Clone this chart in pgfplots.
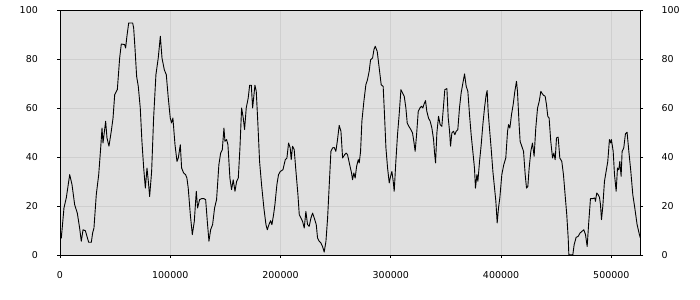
\documentclass[border=0pt]{standalone}
\usepackage{fontspec}
\setmainfont{DejaVu Sans}
\usepackage{pgfplots}
\pgfplotsset{compat=1.18}
\usepackage{pgfplotstable}
\definecolor{bgc}{HTML}{E0E0E0}
\definecolor{gridc}{HTML}{CFCFCF}
\pgfplotstableread{
x y
0 10.5
1200 6.9
3600 19.2
5700 23.3
8800 32.8
10900 28.7
13300 20.5
15700 17.1
17800 11.0
19300 5.6
20900 10.3
23000 9.9
26000 5.2
28400 5.2
29600 9.0
30800 11.0
32900 24.6
35100 32.8
36900 43.7
38100 51.8
39000 45.7
41400 54.6
42600 47.8
44400 44.4
46500 50.5
48100 55.9
49600 65.4
51100 66.8
52000 67.5
54100 80.4
55600 86.1
58600 85.9
59500 84.5
60700 89.3
62300 94.7
64400 94.7
65900 94.7
66800 92.7
68000 84.5
69500 72.9
71000 68.8
72800 60.0
74300 46.4
75900 35.5
77400 27.3
78900 35.5
80100 30.1
81300 23.9
83100 34.1
84900 55.9
87000 73.6
89100 80.4
91000 89.3
92500 80.4
94600 75.6
96400 73.6
98200 64.1
100000 55.9
101200 53.9
102400 55.9
104300 45.0
106100 38.2
107300 39.6
109100 45.0
110300 35.5
112100 33.5
113900 32.8
115100 31.4
116300 27.3
118200 16.5
120000 8.3
121800 13.7
123600 26.0
124800 19.2
126600 22.6
128400 23.0
130500 23.0
132100 22.6
133600 13.7
135100 5.6
136600 10.3
138400 12.4
140200 19.2
142000 22.6
144100 36.9
145700 41.6
147200 43.0
148700 51.8
149600 46.4
151100 47.1
152300 45.0
154100 31.4
155600 26.7
157100 30.7
158700 26.0
160200 30.1
161700 31.4
163200 43.7
164700 60.0
166200 55.9
167400 51.2
168900 60.0
170700 64.1
172000 69.3
173500 69.3
174700 60.0
175900 65.4
176800 69.3
178000 66.8
179500 53.2
181000 38.2
182800 28.7
184900 19.2
186800 12.4
188000 10.3
189500 12.4
191000 14.0
192200 12.4
193700 16.5
194900 20.5
196700 28.7
198200 32.8
199800 34.1
202200 34.8
204300 38.9
205800 39.6
207300 45.7
208800 43.7
209700 38.9
210900 44.4
212400 43.0
214000 34.1
215800 24.6
217000 16.5
218500 15.1
220000 13.7
221500 11.0
223000 17.8
224500 12.4
226000 11.7
227600 15.1
229100 17.1
230600 15.1
232400 12.4
233600 6.9
235100 5.6
236600 4.9
238100 3.5
239600 1.2
241200 5.6
242700 15.1
244200 28.7
245700 42.3
247200 43.7
248700 43.9
250200 42.3
251700 47.1
253200 52.9
254800 50.5
256300 39.6
258100 40.9
259600 41.6
260800 40.9
262900 36.5
264400 33.5
265300 30.7
266500 33.5
267700 31.4
269000 36.2
270500 38.9
271400 37.6
272600 42.3
273800 54.6
275600 62.7
277400 69.5
278900 71.6
280400 75.0
281700 79.7
283500 80.4
284700 83.8
285900 85.2
287700 83.1
289500 76.3
291300 69.5
293100 68.8
294300 57.3
295600 43.7
297100 35.5
298600 29.4
299800 32.1
301000 34.1
302200 30.1
303100 26.0
304600 38.2
306100 49.1
307600 57.3
309200 67.5
310700 66.1
312200 64.8
313700 60.0
314900 53.9
316400 52.5
318200 51.2
319700 49.8
320900 46.4
322100 42.3
323400 49.1
324900 58.6
326400 60.0
327900 60.7
329100 60.0
330000 61.4
331500 63.0
332700 58.6
334200 55.9
335700 54.6
337300 51.8
338800 47.1
339700 41.6
340600 37.6
341800 49.8
343300 56.6
344800 53.2
346300 52.5
347800 60.7
349000 67.5
350900 67.9
352100 55.9
353300 50.5
354200 44.4
355400 49.8
356900 50.5
358100 49.1
359300 50.5
360800 51.2
362300 60.0
363800 66.1
365400 70.2
366900 73.9
368400 68.8
369900 66.8
371400 57.3
372900 49.1
374400 42.3
375900 35.5
376800 27.3
378100 32.8
379000 30.1
380500 38.2
382000 45.0
383500 53.2
385000 60.0
386500 65.4
387400 67.1
388300 58.6
389500 51.8
391000 43.7
392600 34.1
394100 27.3
395300 21.9
396500 13.1
397700 19.2
398900 23.3
400700 32.8
402500 36.9
404300 39.6
405900 50.5
406800 53.2
408000 51.8
409500 57.3
411000 61.4
412500 66.8
414000 70.9
414900 66.8
416400 53.2
417300 46.4
418800 44.4
420400 42.3
421900 32.8
423100 27.3
424300 28.0
425500 35.5
427000 42.3
428500 45.7
430000 40.3
431500 51.8
433100 60.0
434600 62.7
436100 66.8
437000 66.1
438500 65.2
440000 64.8
441200 61.4
442400 56.6
443600 55.9
445100 46.4
446700 39.6
447900 41.6
449100 38.9
450300 47.8
451800 48.1
453300 39.6
455100 38.2
456600 32.8
458100 24.6
459600 16.5
460900 6.9
461500 0.1
465100 0.1
466300 4.2
468100 7.2
469900 7.6
471700 9.0
473500 9.7
475100 10.3
476600 8.3
478100 3.5
479600 13.7
481100 23.0
483200 23.0
485000 23.3
485600 21.9
486800 25.3
488100 24.6
489300 23.5
490200 20.5
491100 14.4
492300 19.9
493800 30.1
495300 34.1
496800 38.2
498300 47.1
499500 45.7
500100 47.1
501700 42.3
502900 32.8
504400 26.0
505600 35.5
506800 34.8
507700 38.2
508900 32.1
509800 42.3
511300 43.7
512800 49.4
514300 50.1
515900 42.3
517700 34.1
519500 24.6
521300 19.2
523400 12.4
525500 8.3
526300 7.0
}\datatable
\begin{document}
\begin{tikzpicture}
\useasboundingbox (0,0) rectangle (700bp,300bp);
\pgfplotsset{
  common/.style={
    at={(60bp,45bp)}, anchor=south west,
    scale only axis, width=580.3bp, height=245bp,
    xmin=0, xmax=526300, ymin=0, ymax=100,
    xtick={0,100000,200000,300000,400000,500000},
    ytick={0,20,40,60,80,100},
    scaled x ticks=false,
    tick align=outside,
    major tick length=3bp,
    tick style={black, line width=0.8bp},
    /pgf/number format/fixed,
    /pgf/number format/precision=0,
    /pgf/number format/assume math mode=true,
    /pgf/number format/1000 sep={},
    tick label style={font=\fontsize{9.5}{11}\selectfont, black},
  }
}
\begin{axis}[common,
  axis background/.style={fill=bgc},
  axis line style={black, line width=0.8bp},
  grid=major, grid style={gridc, line width=0.8bp},
  xtick pos=bottom, ytick pos=both, yticklabel pos=left,
  yticklabel style={anchor=east, inner sep=0pt, xshift=-19bp},
  xticklabel style={anchor=north, inner sep=0pt, yshift=-13bp},
]
\addplot[black, line width=0.9bp, line join=round] table[x=x, y=y] {\datatable};
\end{axis}
\begin{axis}[common,
  hide x axis,
  axis y line*=right,
  y axis line style={draw=none},
  ytick style={draw=none},
  yticklabel style={anchor=west, inner sep=0pt, xshift=18bp},
]
\end{axis}
\end{tikzpicture}
\end{document}
